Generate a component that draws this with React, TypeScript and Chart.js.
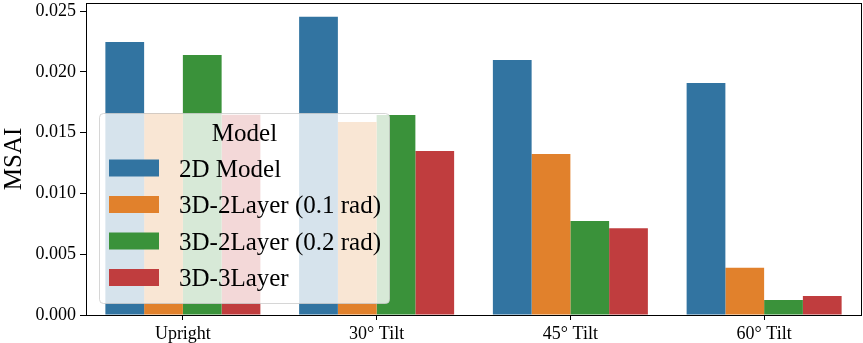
import React, { useEffect, useRef } from "react";
import { Chart, registerables } from "chart.js";

Chart.register(...registerables);

const categories = ["Upright", "30° Tilt", "45° Tilt", "60° Tilt"];
const seriesNames = ["2D Model", "3D-2Layer (0.1 rad)", "3D-2Layer (0.2 rad)", "3D-3Layer"];
const model2D = [0.02245, 0.02453, 0.02097, 0.01908];
const layer2_01 = [0.0166, 0.01587, 0.01324, 0.00389];
const layer2_02 = [0.02138, 0.01645, 0.00773, 0.00123];
const layer3 = [0.01647, 0.01349, 0.00713, 0.00156];
const yTicks = [0, 0.005, 0.01, 0.015, 0.02, 0.025];
const yMax = 0.02566;
const colors = ["#3274a1", "#e1812c", "#3a923a", "#c03d3e"];
const legendTitle = "Model";
const yTitle = "MSAI";

const FONT = '"Liberation Serif", "Times New Roman", serif';

const framePlugin = {
  id: "frameAndLegend",
  afterDraw(chart: any) {
    const ctx = chart.ctx;
    const a = chart.chartArea;
    ctx.save();
    // frame
    ctx.strokeStyle = "#000";
    ctx.lineWidth = 1;
    const l = Math.round(a.left) + 0.5;
    const r = Math.round(a.right) + 0.5;
    const t = Math.round(a.top) + 0.5;
    const b = Math.round(a.bottom) + 0.5;
    ctx.strokeRect(l, t, r - l, b - t);

    // y title
    ctx.save();
    ctx.translate(14, (a.top + a.bottom) / 2);
    ctx.rotate(-Math.PI / 2);
    ctx.fillStyle = "#000";
    ctx.font = `25px ${FONT}`;
    ctx.textAlign = "center";
    ctx.textBaseline = "middle";
    ctx.fillText(yTitle, 0, 0);
    ctx.restore();

    // legend
    const lx = 99.5, ly = 113.5, lw = 290, lh = 190, rad = 4;
    ctx.beginPath();
    ctx.moveTo(lx + rad, ly);
    ctx.lineTo(lx + lw - rad, ly);
    ctx.quadraticCurveTo(lx + lw, ly, lx + lw, ly + rad);
    ctx.lineTo(lx + lw, ly + lh - rad);
    ctx.quadraticCurveTo(lx + lw, ly + lh, lx + lw - rad, ly + lh);
    ctx.lineTo(lx + rad, ly + lh);
    ctx.quadraticCurveTo(lx, ly + lh, lx, ly + lh - rad);
    ctx.lineTo(lx, ly + rad);
    ctx.quadraticCurveTo(lx, ly, lx + rad, ly);
    ctx.closePath();
    ctx.fillStyle = "rgba(255,255,255,0.8)";
    ctx.fill();
    ctx.strokeStyle = "rgba(204,204,204,0.8)";
    ctx.stroke();

    ctx.fillStyle = "#000";
    ctx.font = `25px ${FONT}`;
    ctx.textAlign = "center";
    ctx.textBaseline = "alphabetic";
    ctx.fillText(legendTitle, lx + lw / 2, 141);

    ctx.textAlign = "left";
    chart.data.datasets.forEach((ds: any, i: number) => {
      const cy = 168 + i * 36.5;
      ctx.fillStyle = ds.backgroundColor;
      ctx.fillRect(109, cy - 8.5, 50, 17);
      ctx.fillStyle = "#000";
      ctx.fillText(ds.label, 179, cy + 8.5);
    });
    ctx.restore();
  },
};

export default function App() {
  const ref = useRef<HTMLCanvasElement>(null);
  useEffect(() => {
    document.body.style.margin = "0";
    const seriesData = [model2D, layer2_01, layer2_02, layer3];
    const chart = new Chart(ref.current!, {
      type: "bar",
      data: {
        labels: categories,
        datasets: seriesNames.map((name, i) => ({
          label: name,
          data: seriesData[i],
          backgroundColor: colors[i],
          borderWidth: 0,
          categoryPercentage: 0.8,
          barPercentage: 1.0,
        })),
      },
      options: {
        animation: false,
        responsive: false,
        maintainAspectRatio: false,
        layout: { padding: { left: 0, top: 3, right: 2, bottom: 0 } },
        plugins: { legend: { display: false }, tooltip: { enabled: false }, title: { display: false } },
        scales: {
          x: {
            grid: { display: true, offset: false, drawOnChartArea: false, drawTicks: true, tickLength: 5, color: "#000" },
            border: { display: false },
            ticks: { color: "#000", font: { family: FONT, size: 18 }, padding: 3, maxRotation: 0 },
            afterFit: (s: any) => { s.height = 28; s.paddingLeft = 0; s.paddingRight = 0; },
          },
          y: {
            min: 0,
            max: yMax,
            grid: { display: true, drawOnChartArea: false, drawTicks: true, tickLength: 6, color: "#000" },
            border: { display: false },
            ticks: {
              color: "#000",
              font: { family: FONT, size: 18 },
              padding: 4,
              callback: (v: any) => Number(v).toFixed(3),
            },
            afterBuildTicks: (s: any) => { s.ticks = yTicks.map((v) => ({ value: v })); },
            afterFit: (s: any) => { s.width = 86; s.paddingTop = 0; s.paddingBottom = 0; },
          },
        },
      },
      plugins: [framePlugin],
    });
    return () => chart.destroy();
  }, []);
  return (
    <div style={{ width: 863, height: 343 }}>
      <canvas ref={ref} width={863} height={343} style={{ display: "block" }} />
    </div>
  );
}
